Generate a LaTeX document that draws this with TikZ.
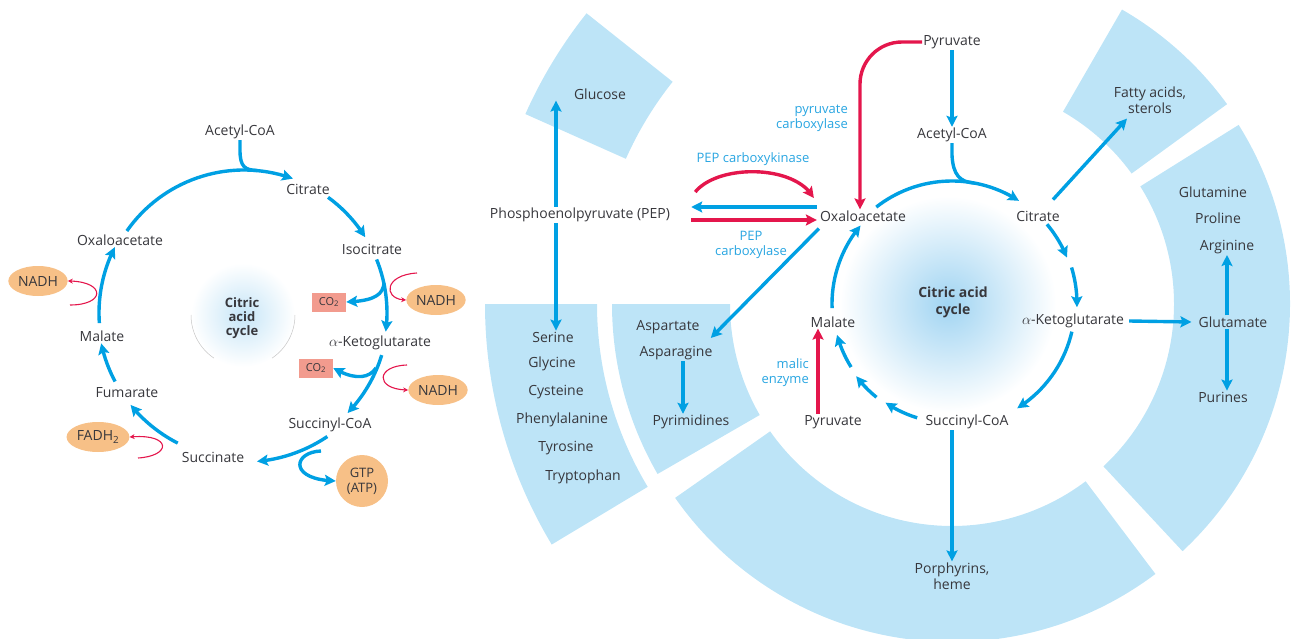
\documentclass[tikz,border=0pt]{standalone}
\usepackage{fontspec}
\setmainfont{Open Sans}
\usetikzlibrary{arrows.meta,bending,calc,shapes.geometric}

\definecolor{cycblue}{RGB}{0,160,227}
\definecolor{ringblue}{RGB}{189,228,247}
\definecolor{glowblue}{RGB}{160,212,242}
\definecolor{cycred}{RGB}{228,22,76}
\definecolor{orangebg}{RGB}{247,192,135}
\definecolor{co2bg}{RGB}{242,155,142}
\definecolor{txtgray}{RGB}{55,55,60}
\definecolor{enzblue}{RGB}{40,165,225}

\begin{document}
\begin{tikzpicture}[x=1pt,y=-1pt]
        \tikzstyle{every node}=[font=\fontsize{14}{16}\selectfont, text=txtgray, inner sep=1pt]
        \tikzstyle{flow}=[draw=cycblue, line width=3.4pt, -{Stealth[length=11pt,width=11pt,inset=2pt]}]
        \tikzstyle{redflow}=[draw=cycred, line width=3.4pt, -{Stealth[length=11pt,width=11pt,inset=2pt]}]
        \tikzstyle{blueline}=[draw=cycblue, line width=3.4pt]
        \tikzstyle{thinred}=[draw=cycred, line width=1.1pt, -{Stealth[length=5pt,width=5pt]}]
        \tikzstyle{enzyme}=[text=enzblue, font=\fontsize{13}{15}\selectfont]
        \tikzstyle{carrier}=[ellipse, fill=orangebg, minimum width=57pt, minimum height=30pt]
        \tikzstyle{gasbox}=[fill=co2bg, minimum width=34pt, minimum height=19pt, font=\fontsize{11}{12}\selectfont]

        \useasboundingbox (0,0) rectangle (1296,639);

        % ring of end products
        \begin{scope}[shift={(952,304)}]
            \foreach \a/\b/\ri/\ro in {-60/-36/222/340, -32/47/222/338, 53/145/222/338,
                                       150/180/222/340, 149/180/355/467, -156/-141.5/357/467}
                \fill[ringblue] (\a:\ri) arc[start angle=\a, end angle=\b, radius=\ri]
                    -- (\b:\ro) arc[start angle=\b, end angle=\a, radius=\ro] -- cycle;
            \shade[inner color=glowblue, outer color=white] (-4,0) circle[radius=108];
        \end{scope}

        \begin{scope}[shift={(243,315)}]
            \shade[inner color=glowblue!60, outer color=white] (0,0) circle[radius=52];
            \draw[gray!45, line width=0.5pt] (180:52) arc[start angle=180, end angle=124, radius=52];
            \draw[gray!45, line width=0.5pt] (0:52) arc[start angle=0, end angle=56, radius=52];
        \end{scope}

        % left cycle
        \node (acoaL) at (240,132) {Acetyl-CoA};
        \node (citL) at (308,189) {Citrate};
        \node (isoL) at (372,249) {Isocitrate};
        \node (akgL) at (380,343) {$\alpha$-Ketoglutarate};
        \node (scoaL) at (330,425) {Succinyl-CoA};
        \node (succL) at (213,457) {Succinate};
        \node (fumL) at (127,393) {Fumarate};
        \node (malL) at (102,336) {Malate};
        \node (oaaL) at (120,240) {Oxaloacetate};
        \node (cacL) at (242,318) [align=center, font=\bfseries\fontsize{13}{14}\selectfont] {Citric\\acid\\cycle};

        \node (nadhA) at (38,281) [carrier] {NADH};
        \node (nadhB) at (436,300) [carrier] {NADH};
        \node (nadhC) at (438,390) [carrier] {NADH};
        \node (fadh) at (98,437) [carrier, minimum width=60pt] {FADH\textsubscript{2}};
        \node (gtp) at (362,481) [circle, fill=orangebg, minimum size=52pt, align=center, font=\fontsize{13}{15}\selectfont] {GTP\\(ATP)};
        \node (co2A) at (329,302) [gasbox] {CO\textsubscript{2}};
        \node (co2B) at (316,368) [gasbox] {CO\textsubscript{2}};

        \begin{scope}[shift={(244,313)}]
            \draw[flow] (-145:143) arc[start angle=-145, end angle=-70, radius=143];
            \draw[flow] (-54:143) arc[start angle=-54, end angle=-32, radius=143];
            \draw[flow] (-22:143) arc[start angle=-22, end angle=7.5, radius=143];
            \draw[flow] (17:144) arc[start angle=17, end angle=44, radius=144];
            \draw[flow] (56:149) arc[start angle=56, end angle=85, radius=149];
            \draw[flow] (117:146) arc[start angle=117, end angle=141, radius=146];
            \draw[flow] (152:146) arc[start angle=152, end angle=168, radius=146];
            \draw[flow] (176:145) arc[start angle=176, end angle=207, radius=145];
        \end{scope}
        \draw[blueline] (acoaL.south) -- ++(0,10) .. controls (240,167) and (245,170) .. (257,170.5);
        \draw[flow] (384,283) .. controls (383,296) and (372,301) .. (co2A.east);
        \draw[flow] (376,368) .. controls (368,380) and (352,379) .. (co2B.east);
        \draw[flow] (321,451) .. controls (293,452) and (288,480) .. (gtp.west);
        \draw[thinred] (417,273) .. controls (383,275) and (383,300) .. (nadhB.west);
        \draw[thinred] (407,365) .. controls (375,366) and (375,390) .. (nadhC.west);
        \draw[thinred] (138,458) .. controls (172,456) and (172,433) .. (fadh.east);
        \draw[thinred] (70,305) .. controls (106,305) and (106,281) .. (nadhA.east);

        % right: cycle and its connections
        \node (pyrT) at (952,42) {Pyruvate};
        \node (acoaR) at (952,135) {Acetyl-CoA};
        \node (fatty) at (1150,100) [align=center] {Fatty acids,\\sterols};
        \node (glc) at (600,94) {Glucose};
        \node (oaa) at (863,216) {Oxaloacetate};
        \node (citR) at (1038,216) {Citrate};
        \node (pep) at (580,215) {Phosphoenolpyruvate (PEP)};
        \node (gln) at (1213,192) {Glutamine};
        \node (pro) at (1218,218) {Proline};
        \node (arg) at (1227,247) {Arginine};
        \node (glu) at (1233,322) {Glutamate};
        \node (pur) at (1223,397) {Purines};
        \node (akgR) at (1073,321) {$\alpha$-Ketoglutarate};
        \node (scoaR) at (967,422) {Succinyl-CoA};
        \node (porph) at (952,576) [align=center] {Porphyrins,\\heme};
        \node (cacR) at (953,302) [align=center, font=\bfseries\fontsize{14}{17}\selectfont] {Citric acid\\cycle};
        \node (malR) at (833,322) {Malate};
        \node (asp) at (668,327) {Aspartate};
        \node (asn) at (676,353) {Asparagine};
        \node (pyrim) at (691,422) {Pyrimidines};
        \node (pyrB) at (833,422) {Pyruvate};
        \node (ser) at (553,337) {Serine};
        \node (gly) at (552,364) {Glycine};
        \node (cys) at (556,392) {Cysteine};
        \node (phe) at (562,420) {Phenylalanine};
        \node (tyr) at (566,448) {Tyrosine};
        \node (trp) at (583,477) {Tryptophan};

        \node (pcx) at (849,118) [enzyme, anchor=east, align=right] {pyruvate\\carboxylase};
        \node (pepck) at (753,159) [enzyme] {PEP carboxykinase};
        \node (pepc) at (751,245) [enzyme, align=center] {PEP\\carboxylase};
        \node (malic) at (810,373) [enzyme, anchor=east, align=right] {malic\\enzyme};

        \begin{scope}[shift={(952,304)}]
            \draw[flow] (-128:123) arc[start angle=-128, end angle=-57, radius=123];
            \draw[flow] (-40:124) arc[start angle=-40, end angle=-22, radius=124];
            \draw[flow] (-17:125) arc[start angle=-17, end angle=1.5, radius=125];
            \draw[flow] (13:123) arc[start angle=13, end angle=58, radius=123];
            \draw[flow] (107:119) arc[start angle=107, end angle=124, radius=119];
            \draw[flow] (129:120) arc[start angle=129, end angle=143, radius=120];
            \draw[flow] (148:119) arc[start angle=148, end angle=165, radius=119];
            \draw[flow] (178:120) arc[start angle=178, end angle=220, radius=122];
        \end{scope}
        \draw[blueline] (acoaR.south) -- ++(0,12) .. controls (953,175) and (960,182) .. (974,183);

        \draw[flow] (pyrT.south) -- (acoaR.north);
        \draw[redflow, rounded corners=42pt] (pyrT.west) -| ([xshift=-3pt]oaa.north);
        \draw[redflow] ($(pep.east)+(24,-23)$) .. controls (718,164) and (795,164) .. ($(oaa.west)+(-5,-18)$);
        \draw[flow] ($(oaa.west)+(-2,-9)$) -- ($(pep.east)+(20,-8)$);
        \draw[redflow] ($(pep.east)+(20,5)$) -- ($(oaa.west)+(-2,4)$);
        \draw[flow] ($(oaa.south west)+(0,6)$) -- ($(asp.east)+(10,11)$);
        \draw[flow] ([xshift=-24pt]pep.north) -- ([xshift=-24pt]pep.north |- glc.south);
        \draw[flow] ([xshift=-24pt]pep.south) -- ([xshift=-24pt]pep.south |- ser.north);
        \draw[flow] ([xshift=7pt]asn.south) -- ([xshift=7pt]asn.south |- pyrim.north);
        \draw[redflow] ([xshift=-15pt]pyrB.north) -- ([xshift=-15pt]pyrB.north |- malR.south);
        \draw[flow] ($(citR.north)+(15,-10)$) -- ($(fatty.south)+(-23,4)$);
        \draw[flow] ($(akgR.east)+(4,0)$) -- ($(glu.west)+(-6,0)$);
        \draw[flow] ([xshift=-6pt]glu.north) -- ([xshift=-6pt]glu.north |- arg.south);
        \draw[flow] ([xshift=-6pt]glu.south) -- ([xshift=-6pt]glu.south |- pur.north);
        \draw[flow] ([xshift=-15pt]scoaR.south) -- ([xshift=-15pt]scoaR.south |- porph.north);
\end{tikzpicture}
\end{document}
